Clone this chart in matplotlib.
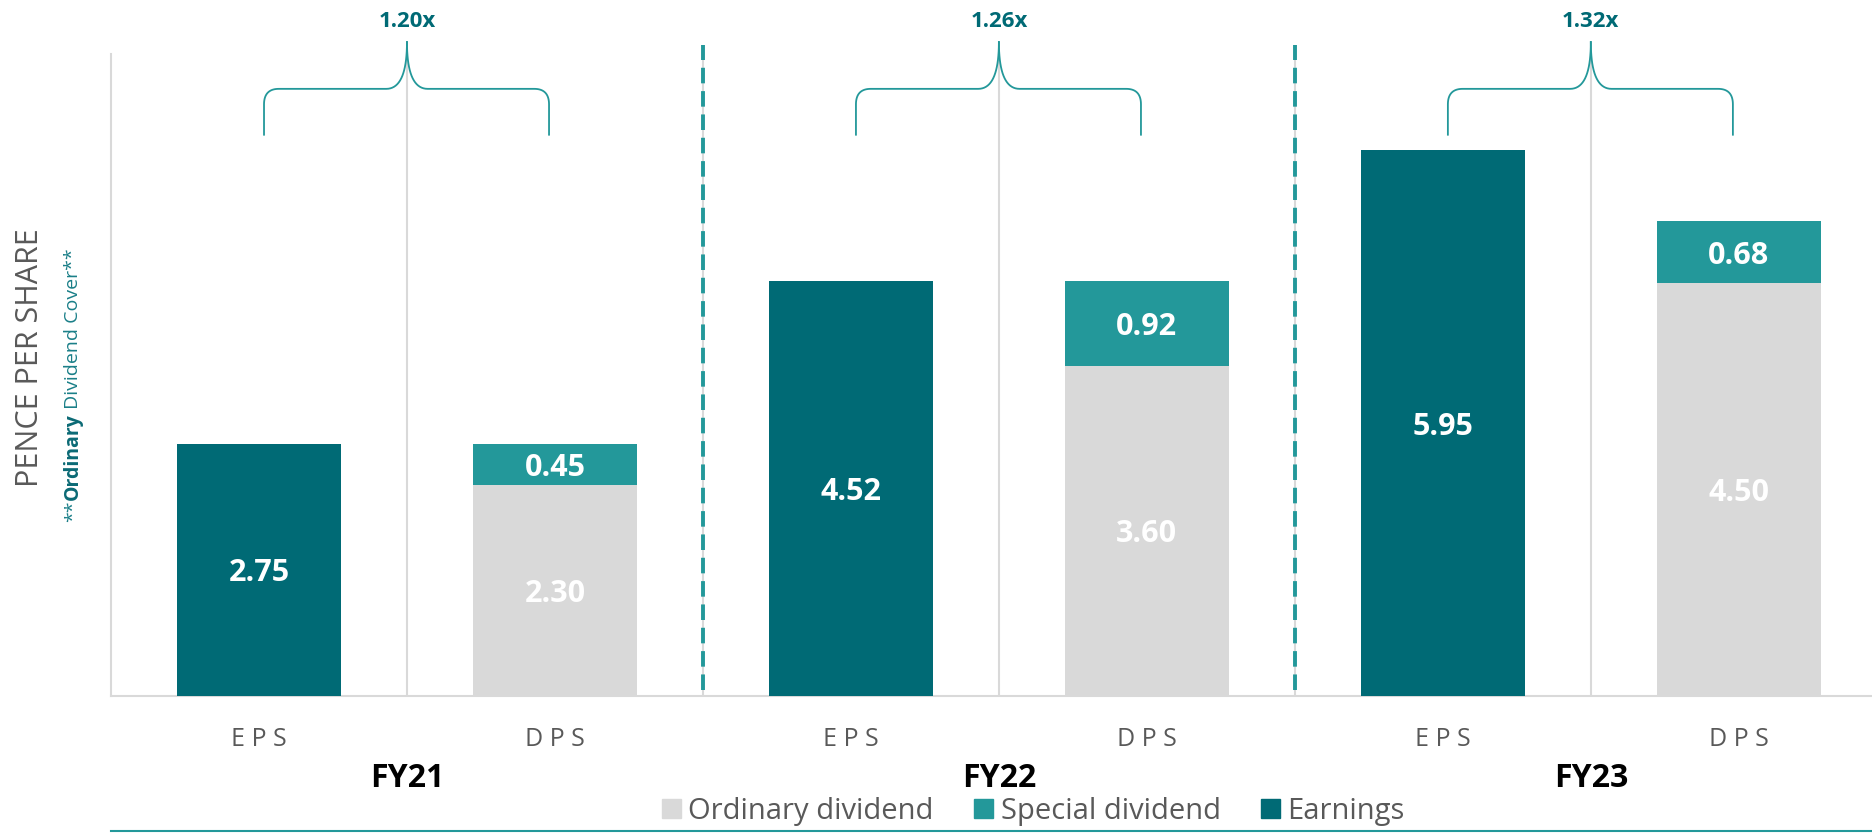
import numpy as np
import matplotlib.pyplot as plt
from matplotlib.patches import Patch
from matplotlib.lines import Line2D

# chart data
years = ['FY21', 'FY22', 'FY23']
eps = [2.75, 4.52, 5.95]
ordinary = [2.30, 3.60, 4.50]
special = [0.45, 0.92, 0.68]
covers = ['1.20x', '1.26x', '1.32x']

DARK = '#006A75'
TEAL = '#23989A'
GREY = '#D9D9D9'
TXT = '#595959'

plt.rcParams['font.family'] = ['Open Sans', 'DejaVu Sans']

fig = plt.figure(figsize=(18.72, 8.33), dpi=100)
ax = fig.add_axes([111 / 1872, 137 / 833, 1 - 111 / 1872, (696 - 54) / 833])

w = 0.555
x_eps = np.arange(len(years)) * 2
x_dps = x_eps + 1

ax.bar(x_eps, eps, width=w, color=DARK, zorder=3)
ax.bar(x_dps, ordinary, width=w, color=GREY, zorder=3)
ax.bar(x_dps, special, width=w, bottom=ordinary, color=TEAL, zorder=3)

# value labels
lbl = dict(ha='center', va='center_baseline', color='white', fontsize=22,
           fontweight='bold', zorder=4)
for i in range(len(years)):
    ax.text(x_eps[i], eps[i] / 2, f'{eps[i]:.2f}', **lbl)
    ax.text(x_dps[i], ordinary[i] / 2, f'{ordinary[i]:.2f}', **lbl)
    ax.text(x_dps[i], ordinary[i] + special[i] / 2, f'{special[i]:.2f}', **lbl)

ax.set_xlim(-0.5, 5.45)
ax.set_ylim(0, 7)

# grey separators and dashed year dividers
for xv in [0.5, 1.5, 2.5, 3.5, 4.5]:
    ax.axvline(xv, color=GREY, lw=1.5, zorder=1)
for xv in [1.5, 3.5]:
    ax.plot([xv, xv], [0.07, 7.1], color=TEAL, lw=2.8, ls=(0, (4, 2)),
            clip_on=False, zorder=5)

# braces for dividend cover
yb, yh, yt = 6.12, 6.62, 7.13
rx, ry, cx = 0.05, 0.17, 0.07


def quad(p0, p1, p2, n=20):
    t = np.linspace(0, 1, n)[:, None]
    return (1 - t) ** 2 * np.array(p0) + 2 * (1 - t) * t * np.array(p1) + t ** 2 * np.array(p2)


for i in range(len(years)):
    x0, x1 = x_eps[i] + 0.017, x_dps[i] - 0.02
    xc = (x_eps[i] + x_dps[i]) / 2
    left = np.vstack([
        [[x0, yb]],
        quad((x0, yh - ry), (x0, yh), (x0 + rx, yh)),
        quad((xc - cx, yh), (xc, yh), (xc, yt)),
    ])
    right = np.vstack([
        [[x1, yb]],
        quad((x1, yh - ry), (x1, yh), (x1 - rx, yh)),
        quad((xc + cx, yh), (xc, yh), (xc, yt)),
    ])
    for seg in (left, right):
        ax.plot(seg[:, 0], seg[:, 1], color=TEAL, lw=1.3, clip_on=False, zorder=5)
    ax.text(xc, 7.35, covers[i], ha='center', va='center', color=DARK,
            fontsize=16, fontweight='bold', clip_on=False)

# axes styling
for s in ['top', 'right']:
    ax.spines[s].set_visible(False)
for s in ['left', 'bottom']:
    ax.spines[s].set_color(GREY)
    ax.spines[s].set_linewidth(1.5)
ax.set_yticks([])
ticks = []
for i in range(len(years)):
    ticks += [x_eps[i], x_dps[i]]
ax.set_xticks(ticks)
ax.set_xticklabels(['E P S', 'D P S'] * len(years), fontsize=18, color=TXT)
ax.tick_params(axis='x', length=0, pad=22)

for i, yr in enumerate(years):
    ax.text((x_eps[i] + x_dps[i]) / 2, -0.9, yr, ha='center', va='center',
            fontsize=23, fontweight='bold', color='black')

# y axis titles
fig.text(30 / 1872, 1 - 358 / 833, 'PENCE PER SHARE', rotation=90, ha='center',
         va='center', fontsize=22, color=TXT)
t1 = fig.text(73 / 1872, 1 - 522 / 833, '**', rotation=90, ha='center', va='bottom',
              fontsize=14, color='#1A7F88')
t2 = ax.annotate('Ordinary', xy=(0.5, 1), xycoords=t1, rotation=90, ha='center',
                 va='bottom', fontsize=14, fontweight='bold', color='#0B6A75',
                 annotation_clip=False)
ax.annotate(' Dividend Cover**', xy=(0.5, 1), xycoords=t2, rotation=90, ha='center',
            va='bottom', fontsize=14, color='#1A7F88', annotation_clip=False)

# legend
handles = [Patch(color=GREY), Patch(color=TEAL), Patch(color=DARK)]
fig.legend(handles, ['Ordinary dividend', 'Special dividend', 'Earnings'],
           loc='center', bbox_to_anchor=(0.552, 0.026), ncol=3, frameon=False,
           fontsize=21, labelcolor=TXT, handlelength=0.65, handleheight=0.65,
           handletextpad=0.25, columnspacing=1.4, borderpad=0.1)
fig.add_artist(Line2D([111 / 1872, 1], [0.002, 0.002], color=TEAL, lw=1.5))

fig.savefig('out.png', dpi=100)
